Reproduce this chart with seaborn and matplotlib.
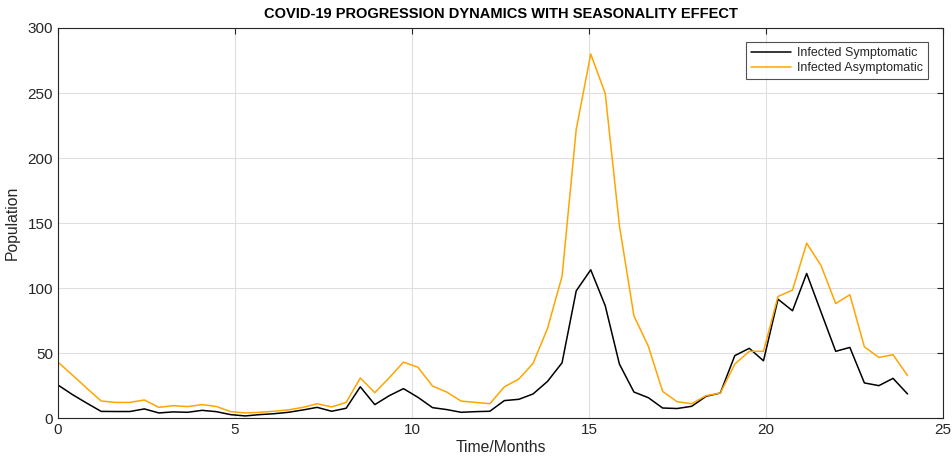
import numpy as np
import pandas as pd
import matplotlib
matplotlib.use("Agg")
import matplotlib.pyplot as plt
import seaborn as sns

# Time points (months)
time_months = [0.00, 0.41, 0.81, 1.22, 1.63, 2.03, 2.44, 2.85, 3.25, 3.66,
               4.07, 4.47, 4.88, 5.29, 5.69, 6.10, 6.51, 6.92, 7.32, 7.73,
               8.14, 8.54, 8.95, 9.36, 9.76, 10.17, 10.58, 10.98, 11.39, 11.80,
               12.20, 12.61, 13.02, 13.42, 13.83, 14.24, 14.64, 15.05, 15.46, 15.86,
               16.27, 16.68, 17.08, 17.49, 17.90, 18.31, 18.71, 19.12, 19.53, 19.93,
               20.34, 20.75, 21.15, 21.56, 21.97, 22.37, 22.78, 23.19, 23.59, 24.00]

infected_symptomatic = [25.4, 18, 11.5, 5.1, 5, 5, 7, 3.9, 4.7, 4.4,
                        5.9, 4.9, 2.6, 1.6, 2.6, 3.3, 4.4, 6.2, 8.2, 5.2,
                        7.5, 24, 10.3, 17.2, 22.6, 15.9, 8, 6.5, 4.4, 4.9,
                        5.2, 13.4, 14.4, 18.5, 28.2, 42.5, 97.8, 114, 86.3, 41.5,
                        20, 15.6, 7.7, 7.3, 9, 16.7, 19.2, 48, 53.6, 44,
                        91.4, 82.5, 111.2, 81.2, 51.3, 54.3, 27, 24.9, 30.5, 18.5]

infected_asymptomatic = [43, 33, 23, 13.1, 12, 12, 13.9, 8.2, 9.5, 8.8,
                         10.3, 8.9, 4.9, 3.9, 4.4, 5.2, 6.3, 8.2, 11, 8.5,
                         12, 30.8, 19.5, 31, 43, 39, 24.6, 20, 13, 12,
                         11, 24, 30, 42, 69, 109, 222, 280, 249.5, 148,
                         78.6, 55, 20.5, 12.5, 11, 17.2, 19.2, 41.5, 51.3, 51.3,
                         93.5, 98.4, 134.5, 117, 88.1, 94.8, 54.8, 46.6, 48.7, 32.6]

series_names = ["Infected Symptomatic", "Infected Asymptomatic"]
series_colors = ["#000000", "#FFA500"]

x_ticks = [0, 5, 10, 15, 20, 25]
y_ticks = [0, 50, 100, 150, 200, 250, 300]

df = pd.DataFrame({
    "Time": time_months * 2,
    "Population": infected_symptomatic + infected_asymptomatic,
    "Series": [series_names[0]] * len(time_months) + [series_names[1]] * len(time_months),
})

sns.set_style("white")
plt.rcParams["font.family"] = ["Liberation Sans", "DejaVu Sans"]

fig = plt.figure(figsize=(9.52, 4.62), dpi=100)
ax = fig.add_axes([0.0609, 0.0952, 0.9296, 0.8442])

sns.lineplot(data=df, x="Time", y="Population", hue="Series",
             palette=dict(zip(series_names, series_colors)),
             linewidth=1.1, ax=ax, legend=True)

ax.set_xlim(0, 25)
ax.set_ylim(0, 300)
ax.set_xticks(x_ticks)
ax.set_yticks(y_ticks)
ax.tick_params(axis="both", direction="in", length=4, width=0.8, colors="#262626",
               labelsize=11, top=True, right=True, labeltop=False, labelright=False)
ax.grid(True, color="#DFDFDF", linewidth=0.8)
ax.set_axisbelow(True)
for s in ax.spines.values():
    s.set_color("#262626")
    s.set_linewidth(0.8)

ax.set_xlabel("Time/Months", fontsize=11.3, color="#262626", labelpad=2)
ax.set_ylabel("Population", fontsize=11.3, color="#262626", labelpad=6)
ax.set_title("COVID-19 PROGRESSION DYNAMICS WITH SEASONALITY EFFECT",
             fontsize=10.5, fontweight="bold", color="#000000", pad=7)

leg = ax.legend(loc="upper right", bbox_to_anchor=(0.983, 0.964), fontsize=9,
                frameon=True, fancybox=False, edgecolor="#262626",
                handlelength=3.2, handletextpad=0.5, borderpad=0.4,
                labelspacing=0.25, borderaxespad=0)
leg.get_frame().set_linewidth(0.8)

fig.savefig("out.png", dpi=100)
